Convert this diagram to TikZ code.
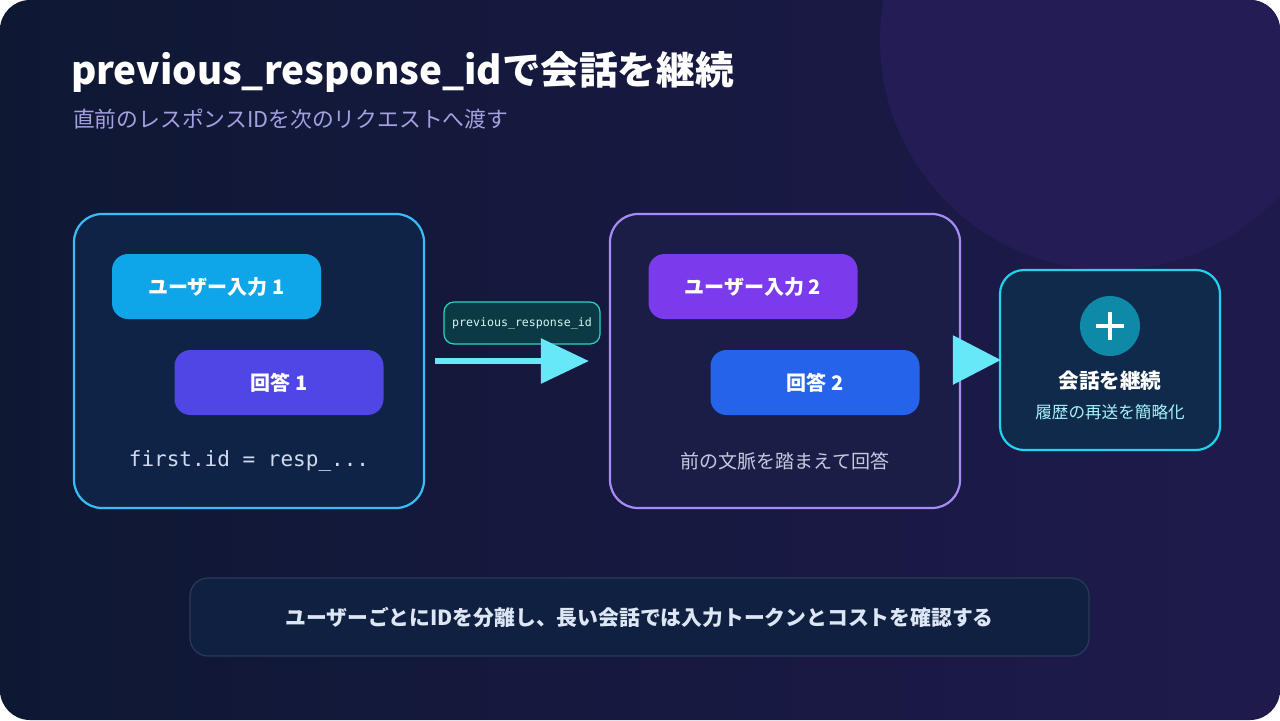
\documentclass[tikz,border=0pt]{standalone}
\usepackage{fontspec}
\setmainfont{Noto Sans CJK JP}
\newfontfamily\monofont{DejaVu Sans Mono}
\usetikzlibrary{arrows.meta}
\definecolor{bgA}{HTML}{0E1833}
\definecolor{bgB}{HTML}{1F1A4C}
\definecolor{blob}{HTML}{231C55}
\definecolor{cardA}{HTML}{0F2347}
\definecolor{cardB}{HTML}{1A1D45}
\definecolor{cardC}{HTML}{0F2A4A}
\definecolor{edgeA}{HTML}{38BDF8}
\definecolor{edgeB}{HTML}{A78BFA}
\definecolor{edgeC}{HTML}{22D3EE}
\definecolor{flowc}{HTML}{67E8F9}
\definecolor{subtxt}{HTML}{A5A0E0}
\definecolor{lighttxt}{HTML}{D0DBEE}
\definecolor{userA}{HTML}{0EA5E9}
\definecolor{ansA}{HTML}{4F46E5}
\definecolor{userB}{HTML}{7C3AED}
\definecolor{ansB}{HTML}{2563EB}
\definecolor{ctxtxt}{HTML}{C7C9E0}
\definecolor{plusc}{HTML}{0E8AA8}
\definecolor{restxt}{HTML}{A5F3FC}
\definecolor{tagedge}{HTML}{2DD4BF}
\definecolor{tagfill}{HTML}{0B3A44}
\definecolor{tagtxt}{HTML}{D8F3F5}
\definecolor{noteedge}{HTML}{2A3A5A}
\definecolor{notefill}{HTML}{0F2040}
\definecolor{notetxt}{HTML}{DDE6F5}
\begin{document}
\begin{tikzpicture}[
            x = 0.5pt, y = -0.5pt,
            card/.style = {draw, line width=1.1pt, rounded corners=14pt,
                minimum width=175pt, minimum height=147pt},
            pill/.style = {rounded corners=8pt, minimum width=104.5pt,
                minimum height=32.5pt, text=white, font=\bfseries\fontsize{10}{12}\selectfont},
            flow/.style = {flowc, line width=3pt}
        ]
        % background
        \useasboundingbox (0,0) rectangle (1280,720);
        \fill[white] (0,0) rectangle (1280,720);
        \begin{scope}
            \clip[rounded corners=15pt] (0,0) rectangle (1280,720);
            \shade[left color=bgA, right color=bgB] (0,0) rectangle (1280,720);
            \fill[blob] (1110,40) circle (230);
        \end{scope}

        % title
        \node[anchor=west, text=white, font=\bfseries\fontsize{19.3}{22}\selectfont] (title) at (64,72) {previous\_response\_idで会話を継続};
        \node[anchor=west, text=subtxt, font=\fontsize{10.9}{13}\selectfont] (sub) at (66,119) {直前のレスポンスIDを次のリクエストへ渡す};

        % first turn
        \node[card, draw=edgeA, fill=cardA] (b1) at (249,361) {};
        \node[pill, fill=userA] (u1) at (216.5,286.5) {ユーザー入力 1};
        \node[pill, fill=ansA] (a1) at (279,382.5) {回答 1};
        \node[text=lighttxt, font=\monofont\fontsize{10.5}{12}\selectfont] (id1) at (249,461) {first.id = resp\_...};

        % second turn
        \node[card, draw=edgeB, fill=cardB] (b2) at (785,361) {};
        \node[pill, fill=userB] (u2) at (753,286.5) {ユーザー入力 2};
        \node[pill, fill=ansB] (a2) at (815,382.5) {回答 2};
        \node[text=ctxtxt, font=\fontsize{9.5}{11}\selectfont] (ctx) at (785,461) {前の文脈を踏まえて回答};

        % result
        \node[draw=edgeC, fill=cardC, line width=1.1pt, rounded corners=12pt,
            minimum width=110pt, minimum height=90pt] (b3) at (1110,360) {};
        \node[circle, fill=plusc, minimum size=30pt] (plus) at (1110,326) {};
        \draw[white, line width=2.2pt] (1110,312) -- (1110,340) (1096,326) -- (1124,326);
        \node[text=white, font=\bfseries\fontsize{10.3}{12}\selectfont] (res) at (1110,381) {会話を継続};
        \node[text=restxt, font=\fontsize{8.3}{10}\selectfont] (resub) at (1110,412) {履歴の再送を簡略化};

        % connectors
        \node[draw=tagedge, fill=tagfill, rounded corners=5pt, line width=0.6pt,
            minimum width=78pt, minimum height=21pt, text=tagtxt,
            font=\monofont\fontsize{5.8}{7}\selectfont] (tag) at (522,323) {previous\_response\_id};
        \draw[flow, -{Triangle[length=24pt,width=22pt]}, shorten <=5pt, shorten >=10pt] (b1.east |- 0,361) -- (b2.west |- 0,361);
        \draw[flow, -{Triangle[length=24pt,width=24pt]}, shorten <=-2pt, shorten >=-1pt] (b2.east |- 0,360) -- (b3.west |- 0,360);

        % note
        \node[draw=noteedge, fill=notefill, rounded corners=9pt, line width=0.6pt,
            minimum width=449.5pt, minimum height=39pt, text=notetxt,
            font=\bfseries\fontsize{10.4}{12}\selectfont] (note) at (639.5,617) {ユーザーごとにIDを分離し、長い会話では入力トークンとコストを確認する};
\end{tikzpicture}
\end{document}
